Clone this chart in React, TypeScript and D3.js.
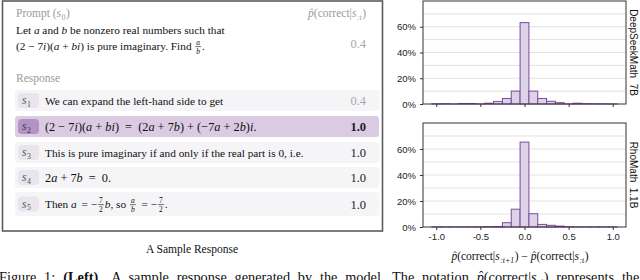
import React, { useEffect, useRef } from "react";
import * as d3 from "d3";

// histogram bins (centers) and share of steps per bin, in %
const binCenters = [-1.0, -0.9, -0.8, -0.7, -0.6, -0.5, -0.4, -0.3, -0.2, -0.1, 0.0, 0.1, 0.2, 0.3, 0.4, 0.5, 0.6, 0.7, 0.8, 0.9, 1.0];
const deepseekPct = [0.2, 0.2, 0.05, 0.4, 0.4, 0.05, 0.6, 2.0, 4.3, 10.0, 63.2, 10.0, 4.3, 2.1, 1.0, 0.1, 0.6, 0.3, 0.15, 0.15, 0.05];
const rhomathPct = [0.1, 0.1, 0.1, 0.1, 0.1, 0.15, 0.3, 0.4, 3.3, 13.7, 65.3, 10.2, 2.0, 1.3, 0.7, 0.2, 0.1, 0.1, 0.1, 0.1, 0.1];
const modelNames = ["DeepSeekMath  7B", "RhoMath  1.1B"];
const yTicks = [0, 20, 40, 60];
const yGrid = [10, 20, 30, 40, 50, 60, 70];
const xTicks = [-1.0, -0.5, 0.0, 0.5, 1.0];

// sample response
const promptProb = "0.4";
const stepIds = ["1", "2", "3", "4", "5"];
const stepProbs = ["0.4", "1.0", "1.0", "1.0", "1.0"];
const highlightStep = 1;

const serif = "'Liberation Serif', 'Times New Roman', serif";
const sans = "'Liberation Sans', Arial, sans-serif";

type Tok = {
  t?: string;
  it?: boolean;
  b?: boolean;
  sub?: string;
  subIt?: boolean;
  frac?: [string, string];
  fracIt?: boolean;
  sp?: number;
  hat?: boolean;
  fs?: number;
};

const I = (t: string): Tok => ({ t, it: true });
const T = (t: string): Tok => ({ t });
const S = (sp: number): Tok => ({ sp });

const stepToks: Tok[][] = [
  [T("We can expand the left-hand side to get")],
  [T("(2 − 7"), I("i"), T(")("), I("a"), T(" + "), I("bi"), T(")"), S(3), T(" = "), S(3), T("(2"), I("a"), T(" + 7"), I("b"), T(") + (−7"), I("a"), T(" + 2"), I("b"), T(")"), I("i"), T(".")],
  [T("This is pure imaginary if and only if the real part is 0, i.e.")],
  [T("2"), I("a"), T(" + 7"), I("b"), S(3), T(" = "), S(3), T("0.")],
  [T("Then "), I("a"), S(2), T(" = −"), { frac: ["7", "2"] }, I("b"), T(", so "), { frac: ["a", "b"], fracIt: true }, S(2), T(" = −"), { frac: ["7", "2"] }, T(".")],
];
const stepIsMath = [false, true, false, true, false];

function rich(
  parent: d3.Selection<SVGGElement, unknown, null, undefined>,
  toks: Tok[],
  x: number,
  y: number,
  size: number,
  color: string,
  anchor: "start" | "end" | "middle" = "start",
  wordSpacing = 0
) {
  const g = parent.append("g");
  const put = (s: string, px: number, py: number, fs: number, italic = false, bold = false) => {
    const t = g
      .append("text")
      .attr("x", px)
      .attr("y", py)
      .attr("font-size", fs)
      .attr("font-family", serif)
      .attr("font-style", italic ? "italic" : "normal")
      .attr("font-weight", bold ? "bold" : "normal")
      .attr("fill", color)
      .style("white-space", "pre")
      .style("word-spacing", `${wordSpacing}px`)
      .text(s);
    return { t, w: (t.node() as SVGTextElement).getComputedTextLength() };
  };
  let cx = 0;
  toks.forEach((tk) => {
    if (tk.sp !== undefined) {
      cx += tk.sp;
    } else if (tk.frac) {
      const fs = size * 0.66;
      const n = put(tk.frac[0], 0, y - size * 0.42, fs, tk.fracIt);
      const d = put(tk.frac[1], 0, y + size * 0.36, fs, tk.fracIt);
      const w = Math.max(n.w, d.w) + 2;
      n.t.attr("x", cx + w / 2 + 1).attr("text-anchor", "middle");
      d.t.attr("x", cx + w / 2 + 1).attr("text-anchor", "middle");
      g.append("line")
        .attr("x1", cx + 1)
        .attr("x2", cx + w + 1)
        .attr("y1", y - size * 0.3)
        .attr("y2", y - size * 0.3)
        .attr("stroke", color)
        .attr("stroke-width", 0.6);
      cx += w + 2;
    } else if (tk.hat) {
      const p = put("p", cx, y, size, true);
      g.append("text")
        .attr("x", cx + p.w * 0.62)
        .attr("y", y - size * 0.12)
        .attr("text-anchor", "middle")
        .attr("font-size", size * 0.9)
        .attr("font-family", serif)
        .attr("fill", color)
        .text("ˆ");
      cx += p.w;
    } else if (tk.t !== undefined) {
      const r = put(tk.t, cx, y, tk.fs ?? size, tk.it, tk.b);
      cx += r.w;
    }
    if (tk.sub) {
      const r = put(tk.sub, cx + 0.5, y + size * 0.24, size * 0.68, tk.subIt);
      cx += r.w + 1;
    }
  });
  const dx = anchor === "end" ? x - cx : anchor === "middle" ? x - cx / 2 : x;
  g.attr("transform", `translate(${dx},0)`);
  return cx;
}

const App = () => {
  const ref = useRef<SVGSVGElement>(null);

  useEffect(() => {
    if (!ref.current) return;
    const svg = d3.select(ref.current);
    svg.selectAll("*").remove();
    const root = svg.append("g") as d3.Selection<SVGGElement, unknown, null, undefined>;

    // ---------- left: sample response box ----------
    root
      .append("rect")
      .attr("x", 2.5)
      .attr("y", 1)
      .attr("width", 380)
      .attr("height", 230)
      .attr("fill", "#fff")
      .attr("stroke", "#5c5c5c")
      .attr("stroke-width", 1.6);

    const grey = "#9a9a9a";
    rich(root, [T("Prompt ("), { t: "s", it: true, sub: "0" }, T(")")], 16, 17, 11.5, grey);
    rich(root, [{ hat: true }, T("(correct|"), { t: "s", it: true, sub: ":t", subIt: true }, T(")")], 366, 17, 11.5, grey, "end");

    rich(root, [T("Let "), I("a"), T(" and "), I("b"), T(" be nonzero real numbers such that")], 16, 34, 11.3, "#111");
    rich(
      root,
      [T("(2 − 7"), I("i"), T(")("), I("a"), T(" + "), I("bi"), T(") is pure imaginary. Find "), { frac: ["a", "b"], fracIt: true }, T(".")],
      16,
      50,
      11.3,
      "#111"
    );
    rich(root, [T(promptProb)], 366, 48, 12.5, "#a8a8a8", "end");

    rich(root, [T("Response")], 16, 82, 11.5, grey);

    const rowTop = [90, 116, 142, 167, 192];
    const rowH = [21, 21, 21, 21, 24];
    stepIds.forEach((id, i) => {
      const hl = i === highlightStep;
      root
        .append("rect")
        .attr("x", 15)
        .attr("y", rowTop[i])
        .attr("width", 364)
        .attr("height", rowH[i])
        .attr("rx", 3)
        .attr("fill", hl ? "#dacbe2" : "#f5f5f7");
      const cy = rowTop[i] + rowH[i] / 2;
      root
        .append("rect")
        .attr("x", 18)
        .attr("y", cy - 7.5)
        .attr("width", 21)
        .attr("height", 15)
        .attr("rx", 4)
        .attr("fill", hl ? "#b294c4" : "#e8e6ec");
      rich(root, [{ t: "s", it: true, sub: id }], 22, cy + 3.5, 11.5, hl ? "#4a2f5c" : "#555");
      rich(root, stepToks[i], 45, cy + 4, stepIsMath[i] ? 12.3 : 11.3, "#111");
      const pr = stepProbs[i];
      rich(root, [{ t: pr, b: hl }], 366, cy + 4.5, 12.5, i === 0 ? "#a8a8a8" : "#222", "end");
    });

    rich(root, [T("A Sample Response")], 192, 253, 11.5, "#111", "middle");

    // caption line, cut by the bottom edge
    rich(
      root,
      [
        T("Figure 1:"),
        S(8),
        { t: "(Left)", b: true },
        S(6),
        T(" A sample response generated by the model. The notation "),
        { hat: true },
        T("(correct|"),
        { t: "s", it: true, sub: ":t", subIt: true },
        T(") represents the"),
      ],
      -1,
      282,
      14.3,
      "#111",
      "start",
      4.2
    );

    // ---------- right: histograms ----------
    const x = d3.scaleLinear().domain([-1.15, 1.15]).range([423, 626]);
    const half = 0.05;
    const panels = [
      { name: modelNames[0], data: deepseekPct, y: d3.scaleLinear().domain([0, 80]).range([104, 1]) },
      { name: modelNames[1], data: rhomathPct, y: d3.scaleLinear().domain([0, 80]).range([227, 123]) },
    ];

    panels.forEach((p, pi) => {
      const g = root.append("g");
      g.selectAll(".grid")
        .data(yGrid)
        .enter()
        .append("line")
        .attr("x1", x.range()[0])
        .attr("x2", x.range()[1])
        .attr("y1", (d) => p.y(d))
        .attr("y2", (d) => p.y(d))
        .attr("stroke", "#e2e2e2")
        .attr("stroke-width", 1);

      g.selectAll(".bar")
        .data(binCenters)
        .enter()
        .append("rect")
        .attr("x", (d) => x(d - half))
        .attr("width", (d) => x(d + half) - x(d - half))
        .attr("y", (_d, i) => p.y(p.data[i]))
        .attr("height", (_d, i) => p.y(0) - p.y(p.data[i]))
        .attr("fill", "#ddd2e7")
        .attr("stroke", "#7a4c99")
        .attr("stroke-width", 1);

      g.append("rect")
        .attr("x", x.range()[0])
        .attr("y", p.y(80))
        .attr("width", x.range()[1] - x.range()[0])
        .attr("height", p.y(0) - p.y(80))
        .attr("fill", "none")
        .attr("stroke", "#333")
        .attr("stroke-width", 1);

      const yAxis = g
        .append("g")
        .attr("transform", `translate(${x.range()[0]},0)`)
        .call(
          d3
            .axisLeft(p.y)
            .tickValues(yTicks)
            .tickSize(3)
            .tickFormat((d) => `${d}%`)
        );
      yAxis.select(".domain").remove();
      yAxis.selectAll("line").attr("stroke", "#333");
      yAxis
        .selectAll("text")
        .attr("font-family", sans)
        .attr("font-size", 9.5)
        .attr("fill", "#222")
        .attr("dx", "-1");

      const xAxis = g
        .append("g")
        .attr("transform", `translate(0,${p.y(0)})`)
        .call(
          d3
            .axisBottom(x)
            .tickValues(xTicks)
            .tickSize(3)
            .tickFormat((d) => (pi === 1 ? d3.format(".1f")(d as number).replace("−", "-") : ""))
        );
      xAxis.select(".domain").remove();
      xAxis.selectAll("line").attr("stroke", "#333");
      xAxis
        .selectAll("text")
        .attr("font-family", sans)
        .attr("font-size", 9.5)
        .attr("fill", "#222");

      const cy = (p.y(0) + p.y(80)) / 2;
      g.append("text")
        .attr("transform", `translate(630,${cy}) rotate(90)`)
        .attr("text-anchor", "middle")
        .attr("font-family", sans)
        .attr("font-size", 10)
        .attr("fill", "#111")
        .style("white-space", "pre")
        .text(p.name);
    });

    rich(
      root,
      [{ hat: true }, T("(correct|"), { t: "s", it: true, sub: ":t+1", subIt: true }, T(") − "), { hat: true }, T("(correct|"), { t: "s", it: true, sub: ":t", subIt: true }, T(")")],
      520,
      260,
      11.5,
      "#111",
      "middle"
    );
  }, []);

  return (
    <svg
      ref={ref}
      width={640}
      height={280}
      style={{ position: "absolute", left: 0, top: 0, background: "#fff" }}
    />
  );
};

export default App;
